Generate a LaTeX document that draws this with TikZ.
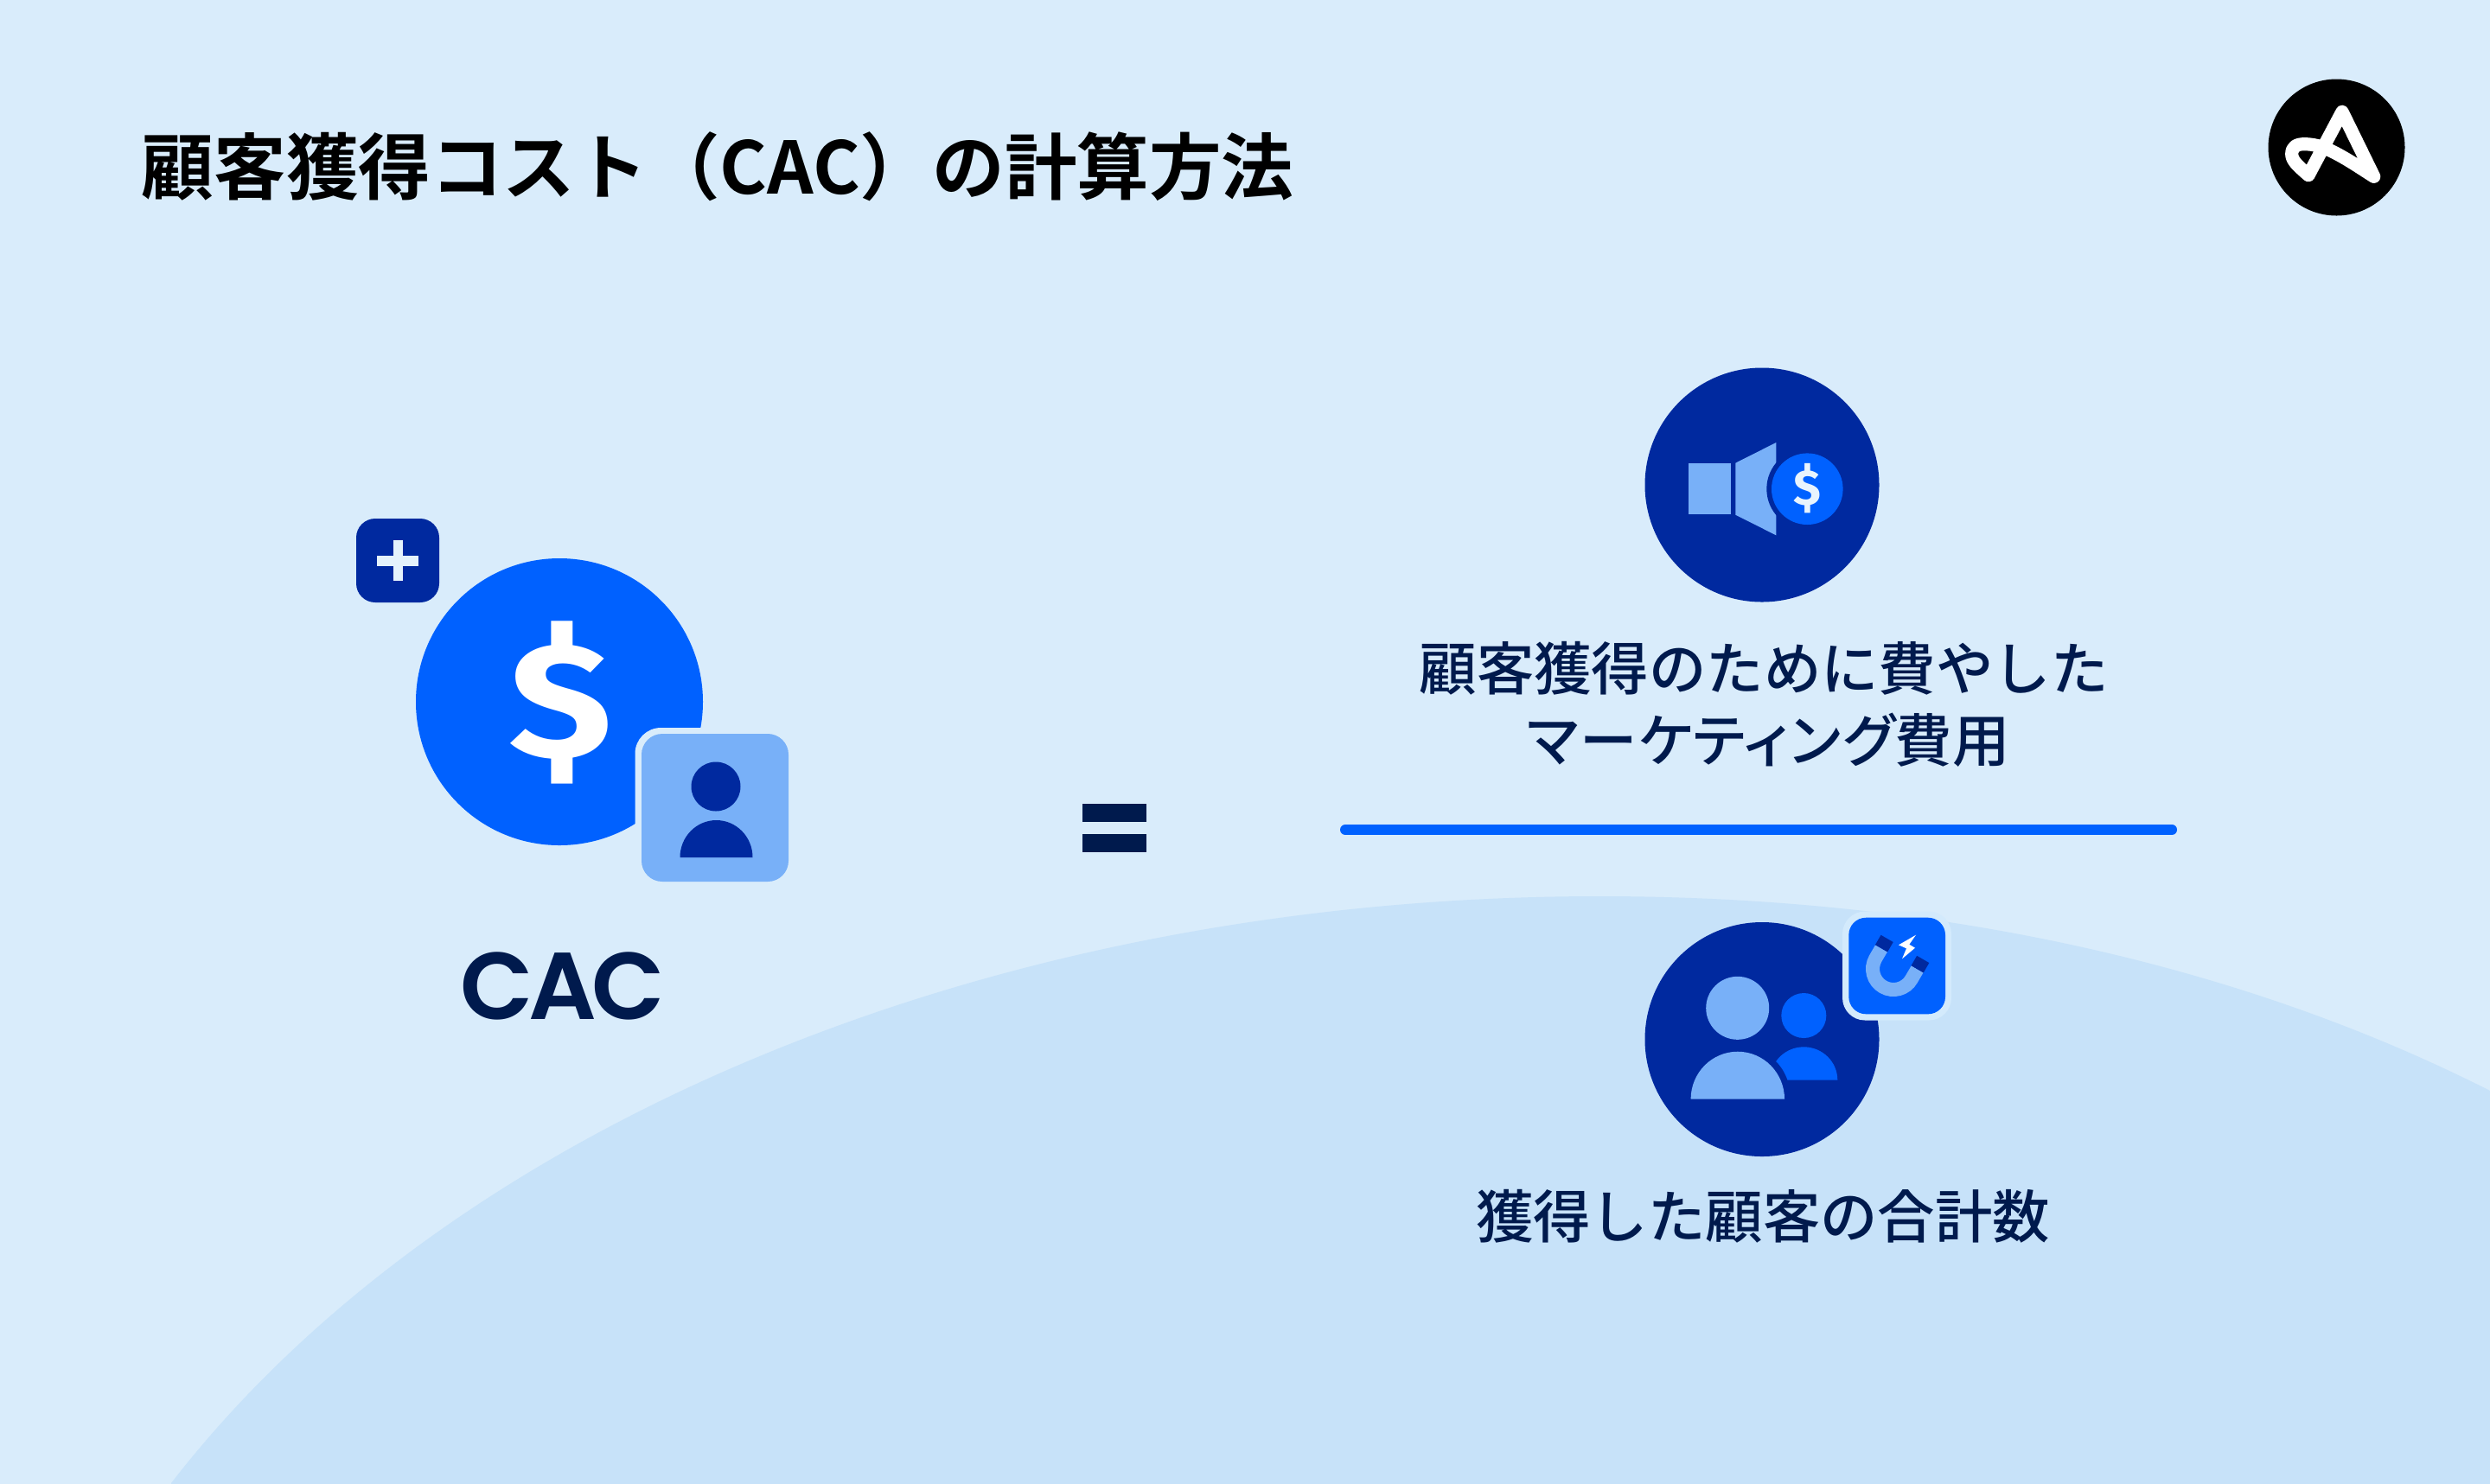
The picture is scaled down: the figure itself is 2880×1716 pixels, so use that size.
\documentclass[tikz,border=0pt]{standalone}
\usepackage{fontspec}
\newfontfamily\cjkb{Noto Sans CJK JP Bold}
\newfontfamily\cjkm{Noto Sans CJK JP Medium}
\newfontfamily\cjkp{Noto Sans CJK JP Medium}[RawFeature=+palt,LetterSpace=3.2]
\newfontfamily\popb{Poppins}[UprightFont=* SemiBold,LetterSpace=-5]
\newfontfamily\firab{Fira Sans Bold}
\definecolor{bgc}{HTML}{D9ECFB}
\definecolor{hillc}{HTML}{C7E2F9}
\definecolor{primc}{HTML}{0061FF}
\definecolor{navyc}{HTML}{00299F}
\definecolor{lightc}{HTML}{78B0F8}
\definecolor{inkc}{HTML}{001A4D}
\definecolor{halo}{HTML}{D3EAFC}
\newcommand{\domeshape}[5]{\fill[#1] ({#2-#4},#3) .. controls ({#2-#4},{#3-.5523*#5}) and ({#2-.5523*#4},{#3-#5}) .. (#2,{#3-#5}) .. controls ({#2+.5523*#4},{#3-#5}) and ({#2+#4},{#3-.5523*#5}) .. ({#2+#4},#3) -- cycle;}
\tikzset{
  labeltext/.style={text=inkc,font=\cjkm\fontsize{16.6pt}{20.6pt}\selectfont,align=center,inner sep=0pt},
  magnetarm/.style={draw=lightc,line width=4pt,line cap=butt},
  magnettip/.style={draw=navyc,line width=4.1pt,line cap=butt},
}
\begin{document}
\begin{tikzpicture}[x=0.25pt,y=-0.25pt]
\useasboundingbox (0,0) rectangle (2880,1716);
\fill[bgc] (-5,-5) rectangle (2885,1721);
\fill[hillc] (198,1716) .. controls (520,1300) and (1150,1037) .. (1850,1037) .. controls (2250,1037) and (2600,1120) .. (2880,1262) -- (2885,1262) -- (2885,1721) -- (198,1721) -- cycle;

% title
\node[anchor=west,inner sep=0pt,text=black,font=\cjkb\fontsize{20.9pt}{25pt}\selectfont] (title) at (163,193) {顧客獲得コスト（CAC）の計算方法};

% logo
\fill[black] (2702.5,170.5) circle[radius=79];
\draw[white,line width=3.8pt,line join=round,line cap=round] (2745.7,204.3) -- (2709,129.3) -- (2670,202.7) .. controls (2658,192) and (2650.7,186) .. (2650.7,178.3) .. controls (2650.7,170) and (2656,166.7) .. (2665,166.7) .. controls (2675,166.7) and (2685,169) .. (2695,174) .. controls (2712,182) and (2728,193) .. (2745.7,204.3);

% left icon
\fill[primc] (647,812) circle[radius=166];
\node[text=white,font=\firab\fontsize{47.5pt}{47.5pt}\selectfont,inner sep=0pt] (dollarbig) at (648,813) {\scalebox{1.15}[1]{\$}};
\fill[navyc,rounded corners=5.5pt] (412,600) rectangle (508,697);
\fill[bgc!70!white] (455,625) rectangle (466,672);
\fill[bgc!70!white] (436,642.5) rectangle (484,654.5);
\fill[bgc,rounded corners=7.5pt] (734.5,842) rectangle (919,1027);
\fill[lightc,rounded corners=6pt] (742,849) rectangle (912,1020);
\fill[navyc] (828,910) circle[radius=28.5];
\domeshape{navyc}{828.5}{992}{42}{43}
\node[text=inkc,font=\popb\fontsize{27.5pt}{27.5pt}\selectfont,inner sep=0pt] (cac) at (651,1141) {CAC};

% equals
\fill[inkc] (1252,930) rectangle (1326,950.5);
\fill[inkc] (1252,965) rectangle (1326,985.5);

% fraction bar
\draw[primc,line width=3pt,line cap=round] (1556,960) -- (2512,960);

% top circle
\fill[navyc] (2038,561) circle[radius=135.5];
\fill[lightc] (1952.7,535.7) rectangle (2001.7,595);
\fill[lightc] (2007.3,535.7) -- (2054.3,512) -- (2054.3,619.3) -- (2007.3,595.7) -- cycle;
\fill[navyc] (2090.3,565.7) circle[radius=47];
\fill[primc] (2090.3,565.7) circle[radius=41.3];
\node[text=bgc!60!white,font=\firab\fontsize{14.5pt}{14.5pt}\selectfont,inner sep=0pt] (dollarsmall) at (2090,565) {\$};
\node[labeltext] (costlabel) at (2040,815) {顧客獲得のために費やした\\\hspace*{2.8pt}{\cjkp マーケティング}費用};

% bottom circle
\fill[navyc] (2038,1202.5) circle[radius=135.5];
\fill[lightc] (2009.7,1166.3) circle[radius=36.5];
\fill[primc] (2086.3,1175) circle[radius=26];
\domeshape{primc}{2086.3}{1249.7}{39}{38.4}
\fill[navyc] (1949,1272) -- (1949,1265) .. controls (1949,1235) and (1975,1210) .. (2009.7,1210) .. controls (2044,1210) and (2071,1235) .. (2071,1272) -- cycle;
\domeshape{lightc}{2009.8}{1271.7}{54.2}{55}
\fill[halo,rounded corners=6.5pt] (2131,1054.5) rectangle (2257,1180.5);
\fill[primc,rounded corners=5pt] (2138.3,1061.7) rectangle (2250,1173.3);
\draw[magnetarm] (2176,1097.3) -- (2169.2,1109) .. controls (2162.6,1120.5) and (2166.5,1135.2) .. (2178,1141.8) .. controls (2189.5,1148.4) and (2204.2,1144.5) .. (2210.8,1133) -- (2217.6,1121.3);
\draw[magnettip] (2176,1097.3) -- (2182.6,1085.9);
\draw[magnettip] (2217.6,1121.3) -- (2224.2,1109.9);
\fill[white] (2216,1081.7) -- (2196,1093.3) -- (2205,1097.3) -- (2200,1109.3) -- (2215,1096.7) -- (2208.3,1092.7) -- cycle;
\node[labeltext] (countlabel) at (2039,1407) {獲得した顧客の合計数};
\end{tikzpicture}
\end{document}
